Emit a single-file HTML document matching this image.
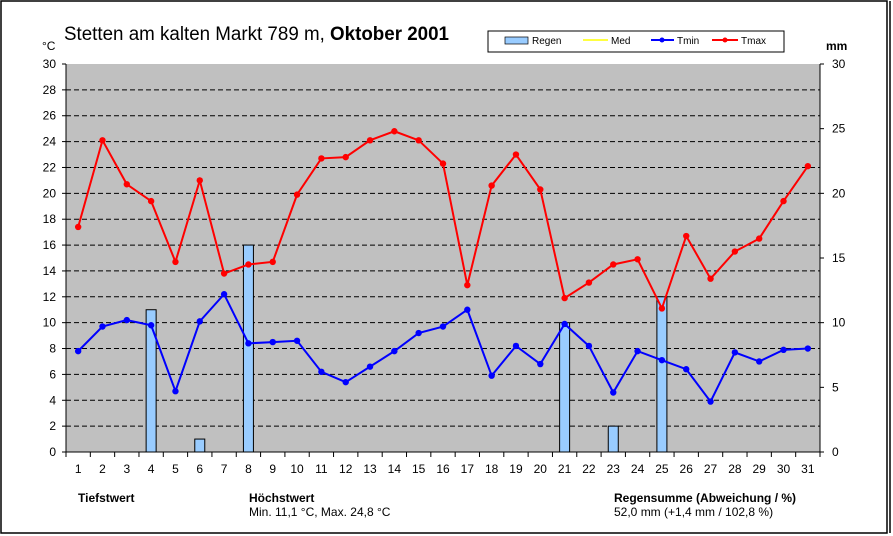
<!DOCTYPE html>
<html><head><meta charset="utf-8"><style>
body{margin:0;background:#fff;}
svg{display:block;font-family:"Liberation Sans",Arial,sans-serif;}
</style></head><body>
<svg id="c" width="893" height="536" xmlns="http://www.w3.org/2000/svg">
<rect x="1" y="1" width="886" height="532" fill="#fff" stroke="#000" stroke-width="1.5"/>
<line x1="890" y1="1" x2="890" y2="533" stroke="#000" stroke-width="1.5"/>
<rect x="66" y="64" width="754" height="388" fill="#c0c0c0"/>
<g id="g"></g>
<text x="64" y="40" font-size="19" textLength="385" lengthAdjust="spacingAndGlyphs">Stetten am kalten Markt 789 m, <tspan font-weight="bold">Oktober 2001</tspan></text>
<text x="42" y="50" font-size="12">°C</text>
<text x="826" y="50" font-size="12" font-weight="bold">mm</text>
<rect x="488" y="31" width="296" height="21" fill="#fff" stroke="#000"/>
<rect x="505" y="37" width="23" height="7" fill="#99ccff" stroke="#000" stroke-width="0.7"/>
<text x="532" y="44" font-size="10">Regen</text>
<line x1="583" y1="40" x2="608" y2="40" stroke="#ffff00" stroke-width="1.5"/><text x="611" y="44" font-size="10">Med</text>
<line x1="651" y1="40" x2="674" y2="40" stroke="#0000ff" stroke-width="2"/><circle cx="662" cy="40" r="2.5" fill="#0000ff"/><text x="677" y="44" font-size="10">Tmin</text>
<line x1="712" y1="40" x2="738" y2="40" stroke="#ff0000" stroke-width="2"/><circle cx="725" cy="40" r="2.5" fill="#ff0000"/><text x="741" y="44" font-size="10">Tmax</text>
<text x="78" y="502" font-size="12" font-weight="bold">Tiefstwert</text>
<text x="249" y="502" font-size="12" font-weight="bold">Höchstwert</text>
<text x="249" y="516" font-size="12">Min. 11,1 °C, Max. 24,8 °C</text>
<text x="614" y="502" font-size="12" font-weight="bold">Regensumme (Abweichung / %)</text>
<text x="614" y="516" font-size="12">52,0 mm (+1,4 mm / 102,8 %)</text>
</svg>
<script>
var g=document.getElementById('g'),s='';
var L=66,R=820,T=64,B=452,dx=(R-L)/31,sy=(B-T)/30;
function Y(v){return B-v*sy;}
function X(d){return L+(d-0.5)*dx;}
for(var v=2;v<30;v+=2)s+='<line x1="'+L+'" x2="'+R+'" y1="'+Y(v)+'" y2="'+Y(v)+'" stroke="#000" stroke-dasharray="5,3" stroke-width="1"/>';
for(var v=0;v<=30;v+=2){s+='<line x1="'+(L-4)+'" x2="'+L+'" y1="'+Y(v)+'" y2="'+Y(v)+'" stroke="#000"/><text x="'+(L-10)+'" y="'+(Y(v)+4)+'" font-size="12" text-anchor="end">'+v+'</text>';}
for(var v=0;v<=30;v+=5){s+='<line x1="'+R+'" x2="'+(R+4)+'" y1="'+Y(v)+'" y2="'+Y(v)+'" stroke="#000"/><text x="'+(R+12)+'" y="'+(Y(v)+4)+'" font-size="12">'+v+'</text>';}
for(var d=0;d<=31;d++){var x=L+d*dx;s+='<line x1="'+x+'" x2="'+x+'" y1="'+B+'" y2="'+(B+5)+'" stroke="#000"/>';}
for(var d=1;d<=31;d++)s+='<text x="'+X(d)+'" y="473" font-size="12" text-anchor="middle">'+d+'</text>';
var rain={4:11,6:1,8:16,21:10,23:2,25:12};
for(var k in rain){s+='<rect x="'+(X(+k)-5)+'" y="'+Y(rain[k])+'" width="10" height="'+(rain[k]*sy)+'" fill="#99ccff" stroke="#000" stroke-width="1"/>';}
s+='<line x1="'+L+'" x2="'+L+'" y1="'+T+'" y2="'+B+'" stroke="#000"/><line x1="'+R+'" x2="'+R+'" y1="'+T+'" y2="'+B+'" stroke="#000"/><line x1="'+L+'" x2="'+R+'" y1="'+B+'" y2="'+B+'" stroke="#000"/>';
var tmax=[17.4,24.1,20.7,19.4,14.7,21.0,13.8,14.5,14.7,19.9,22.7,22.8,24.1,24.8,24.1,22.3,12.9,20.6,23.0,20.3,11.9,13.1,14.5,14.9,11.1,16.7,13.4,15.5,16.5,19.4,22.1];
var tmin=[7.8,9.7,10.2,9.8,4.7,10.1,12.2,8.4,8.5,8.6,6.2,5.4,6.6,7.8,9.2,9.7,11.0,5.9,8.2,6.8,9.9,8.2,4.6,7.8,7.1,6.4,3.9,7.7,7.0,7.9,8.0];
function line(a,c){var p=a.map(function(v,i){return X(i+1)+','+Y(v);}).join(' ');var r='<polyline points="'+p+'" fill="none" stroke="'+c+'" stroke-width="2"/>';a.forEach(function(v,i){r+='<circle cx="'+X(i+1)+'" cy="'+Y(v)+'" r="3.2" fill="'+c+'"/>';});return r;}
s+=line(tmin,'#0000ff')+line(tmax,'#ff0000');
g.innerHTML=s;
</script>
</body></html>
